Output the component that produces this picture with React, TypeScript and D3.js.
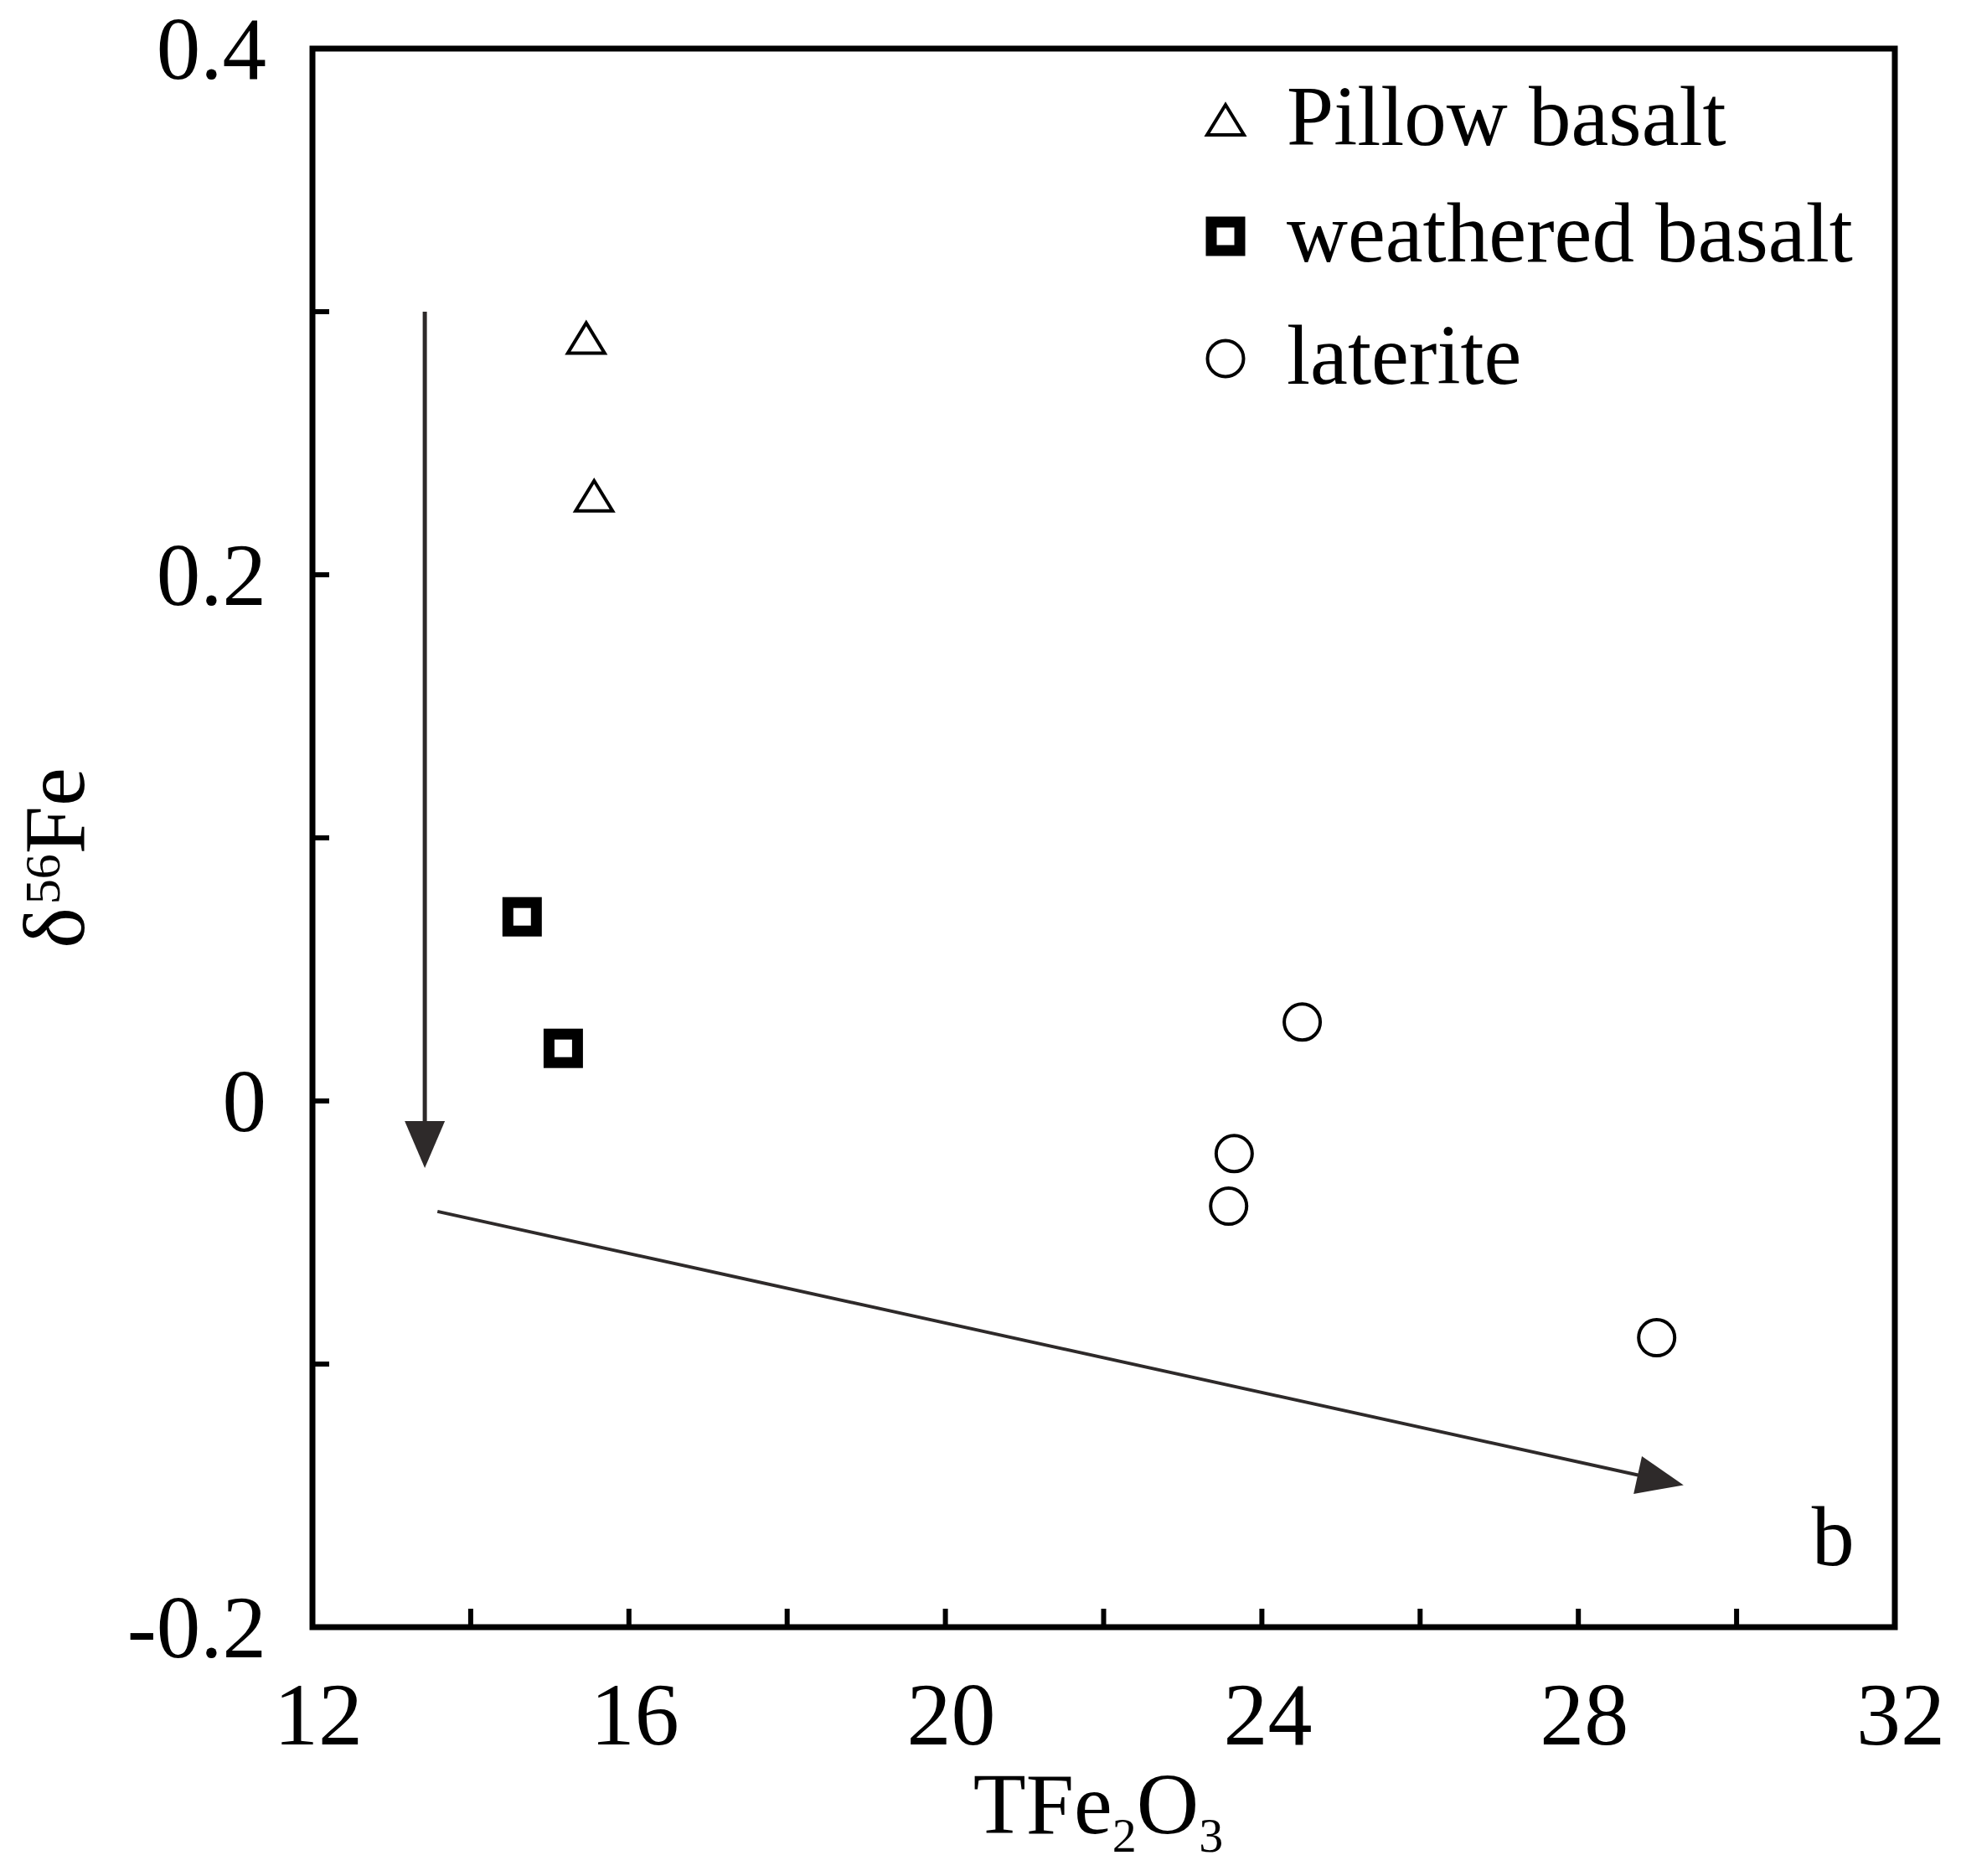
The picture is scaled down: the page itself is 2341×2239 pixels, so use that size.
import React from "react";
import * as d3 from "d3";

const W = 2341;
const H = 2239;

// Data
const pillowX = [15.46, 15.56];
const pillowY = [0.29, 0.23];
const weatheredX = [14.65, 15.17];
const weatheredY = [0.07, 0.02];
const lateriteX = [24.51, 23.65, 23.58, 28.99];
const lateriteY = [0.03, -0.02, -0.04, -0.09];

const xTicks = [12, 14, 16, 18, 20, 22, 24, 26, 28, 30, 32];
const xTickLabels = ["12", "16", "20", "24", "28", "32"];
const yTicks = [-0.2, -0.1, 0, 0.1, 0.2, 0.3, 0.4];
const yTickLabels = ["-0.2", "0", "0.2", "0.4"];

const legendLabels = ["Pillow basalt", "weathered basalt", "laterite"];

// Arrows (data coordinates): [x1, y1, x2(tip), y2(tip)]
const arrowDown = [13.42, 0.3, 13.42, -0.0255];
const arrowDiag = [13.58, -0.042, 29.33, -0.146];
const panelLabel = { text: "b", x: 30.95, y: -0.1764 };

const FONT = "'Liberation Serif', 'Times New Roman', serif";

export default function App() {
  const x = d3.scaleLinear().domain([12, 32]).range([373, 2262]);
  const y = d3.scaleLinear().domain([-0.2, 0.4]).range([1942, 58]);
  const [x0, x1] = x.range();
  const [y0, y1] = y.range();

  const tri = (cx: number, cy: number) =>
    `M${cx},${cy - 18}L${cx + 22},${cy + 18}L${cx - 22},${cy + 18}Z`;

  const arrow = (a: number[], head: number, half: number, sw: number, key: string) => {
    const sx = x(a[0]), sy = y(a[1]), tx = x(a[2]), ty = y(a[3]);
    const dx = tx - sx, dy = ty - sy;
    const len = Math.hypot(dx, dy);
    const ux = dx / len, uy = dy / len;
    const bx = tx - ux * head, by = ty - uy * head;
    const px = -uy, py = ux;
    const pts = [
      [tx, ty],
      [bx + px * half, by + py * half],
      [bx - px * half, by - py * half],
    ];
    return (
      <g key={key}>
        <line x1={sx} y1={sy} x2={bx + ux * 5} y2={by + uy * 5} stroke="#2e2a2a" strokeWidth={sw} />
        <polygon points={pts.map((p) => p.join(",")).join(" ")} fill="#2e2a2a" />
      </g>
    );
  };

  const legendX = 1463;
  const legendY = [143, 282, 428];
  const legendTextX = 1536;

  return (
    <svg
      width={W}
      height={H}
      style={{ position: "absolute", left: 0, top: 0, background: "#fff" }}
      fontFamily={FONT}
    >
      <rect x={0} y={0} width={W} height={H} fill="#fff" />

      {/* ticks */}
      {xTicks.map((t) => (
        <line key={"xt" + t} x1={x(t)} x2={x(t)} y1={y0} y2={y0 - 22} stroke="#000" strokeWidth={6} />
      ))}
      {yTicks.map((t) => (
        <line key={"yt" + t} x1={x0} x2={x0 + 20} y1={y(t)} y2={y(t)} stroke="#000" strokeWidth={6} />
      ))}

      {/* frame */}
      <rect x={x0} y={y1} width={x1 - x0} height={y0 - y1} fill="none" stroke="#000" strokeWidth={7} />

      {/* tick labels */}
      {xTickLabels.map((l) => (
        <text key={"xl" + l} x={x(+l) + 7} y={2082} textAnchor="middle" fontSize={106} fill="#000">
          {l}
        </text>
      ))}
      {yTickLabels.map((l) => (
        <text key={"yl" + l} x={318} y={y(+l) + 36} textAnchor="end" fontSize={105} fill="#000">
          {l}
        </text>
      ))}

      {/* axis titles */}
      <text x={1311} y={2188} textAnchor="middle" fontSize={103} fill="#000">
        TFe
        <tspan fontSize={58} dy={22}>2</tspan>
        <tspan dy={-22}>O</tspan>
        <tspan fontSize={58} dy={22}>3</tspan>
      </text>
      <text
        transform={`translate(100,1024) rotate(-90)`}
        textAnchor="middle"
        fontSize={103}
        fill="#000"
      >
        δ<tspan fontSize={60} dy={-29} dx={4}>56</tspan>
        <tspan dy={29}>Fe</tspan>
      </text>

      {/* arrows */}
      {arrow(arrowDown, 56, 24, 5, "a1")}
      {arrow(arrowDiag, 56, 23, 4, "a2")}

      {/* data */}
      {pillowX.map((v, i) => (
        <path key={"p" + i} d={tri(x(v), y(pillowY[i]))} fill="#fff" stroke="#000" strokeWidth={4} strokeLinejoin="miter" />
      ))}
      {weatheredX.map((v, i) => (
        <rect key={"w" + i} x={x(v) - 17} y={y(weatheredY[i]) - 17} width={34} height={34} fill="#fff" stroke="#000" strokeWidth={13} />
      ))}
      {lateriteX.map((v, i) => (
        <circle key={"l" + i} cx={x(v)} cy={y(lateriteY[i])} r={21.5} fill="#fff" stroke="#000" strokeWidth={4} />
      ))}

      {/* panel label */}
      <text x={x(panelLabel.x)} y={y(panelLabel.y)} fontSize={102} fill="#000">
        {panelLabel.text}
      </text>

      {/* legend */}
      <path d={tri(legendX, legendY[0])} fill="#fff" stroke="#000" strokeWidth={4} />
      <rect x={legendX - 17} y={legendY[1] - 17} width={34} height={34} fill="#fff" stroke="#000" strokeWidth={13} />
      <circle cx={legendX} cy={legendY[2]} r={21.5} fill="#fff" stroke="#000" strokeWidth={4} />
      {legendLabels.map((l, i) => (
        <text key={"lg" + i} x={legendTextX} y={legendY[i] + 30} fontSize={101} fill="#000">
          {l}
        </text>
      ))}
    </svg>
  );
}
